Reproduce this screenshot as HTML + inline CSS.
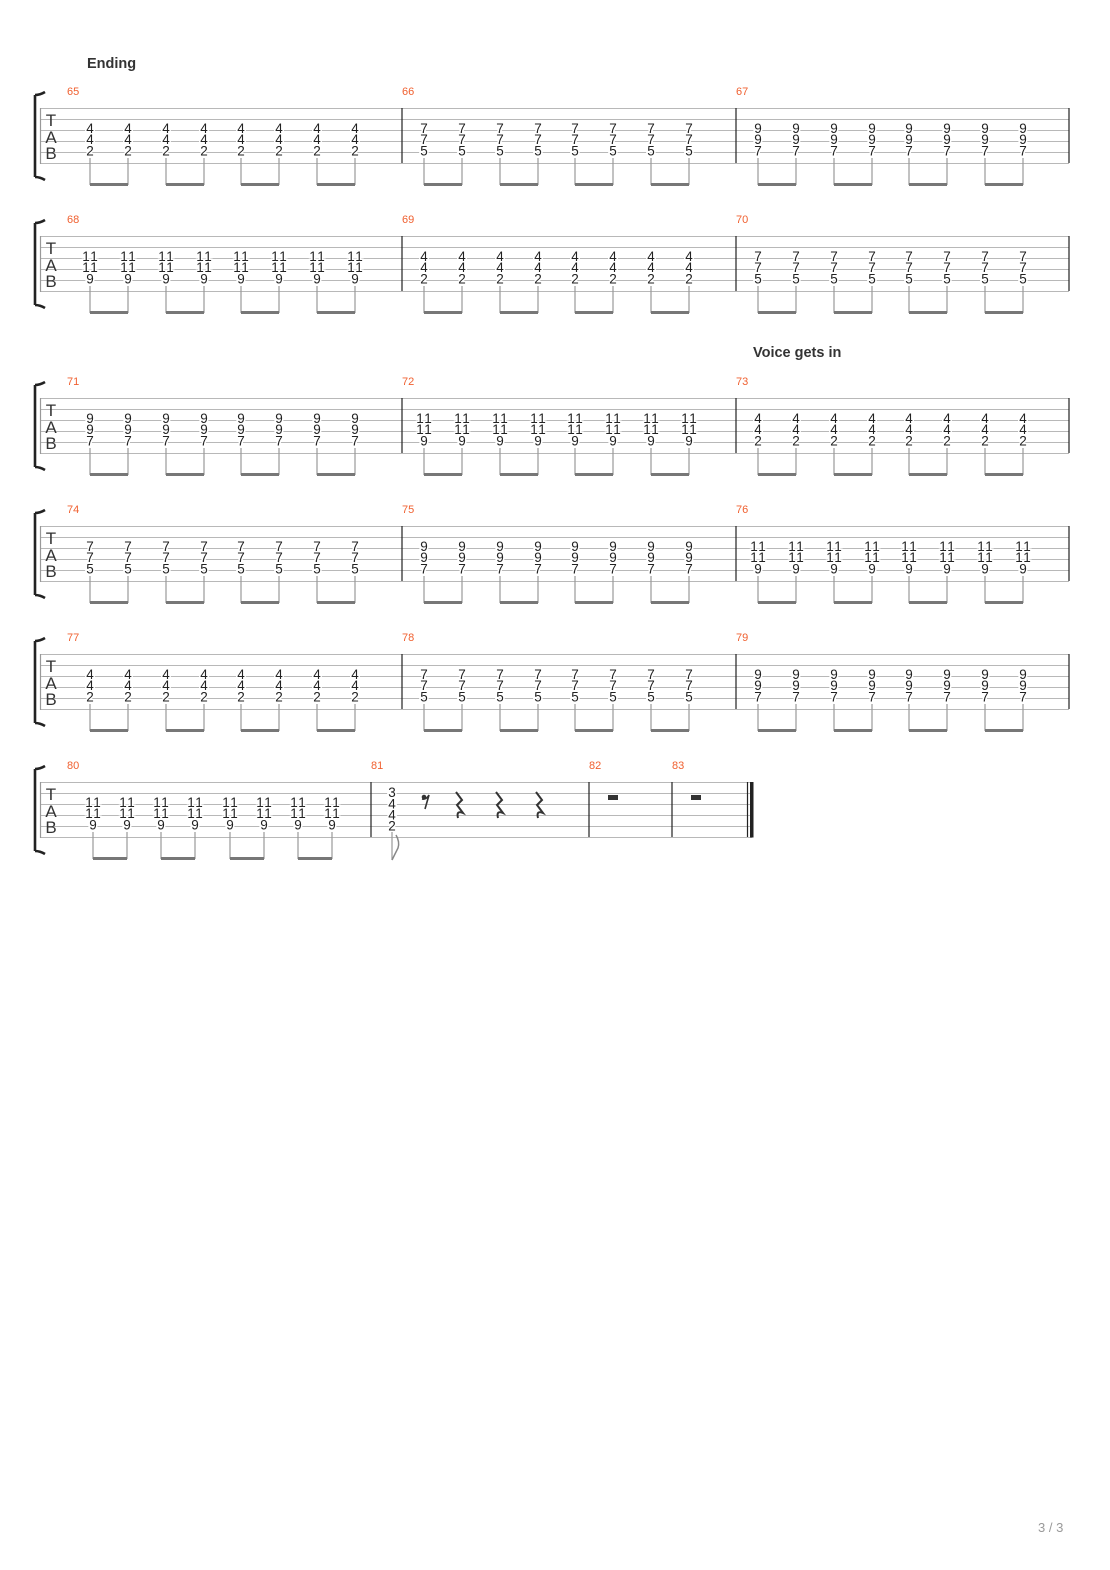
<!DOCTYPE html>
<html><head><meta charset="utf-8"><style>
body{margin:0;background:#fff;}
svg{display:block;font-family:"Liberation Sans",sans-serif;}
.n{font-size:13.5px;fill:#222;text-anchor:middle;stroke:#fff;stroke-width:3px;paint-order:stroke;}
.mn{font-size:11px;fill:#f06030;}
.sl{stroke:#b8b8b8;stroke-width:1;fill:none;}
.bl{stroke:#222;stroke-width:1.2;}
.st{stroke:#999;stroke-width:1.2;fill:none;}
.bm{stroke:#777;stroke-width:3;fill:none;}
.tab{font-size:17px;fill:#333;text-anchor:middle;}
.br{stroke:#222;stroke-width:2.6;fill:none;}
</style></head><body>
<svg width="1110" height="1570" viewBox="0 0 1110 1570" xmlns="http://www.w3.org/2000/svg">
<text x="87" y="68" font-size="14.5" font-weight="bold" fill="#333">Ending</text>
<text x="753" y="357" font-size="14.5" font-weight="bold" fill="#333">Voice gets in</text>
<text x="1038" y="1532" font-size="13" fill="#999">3 / 3</text>

<g transform="translate(0,108)">
<path class="sl" d="M40 0.5H1069M40 11.5H1069M40 22.5H1069M40 33.5H1069M40 44.5H1069M40 55.5H1069"/>
<path class="bl" d="M402 0V55M736 0V55M1069 0V55"/><path class="st" d="M40.5 0V56"/>
<path class="br" d="M35 -13V69M35 -13Q40 -13 45 -16M35 69Q40 69 45 72"/>
<text class="tab" x="51" y="18">T</text><text class="tab" x="51" y="35">A</text><text class="tab" x="51" y="51">B</text>
<text class="mn" x="67" y="-13">65</text><text class="mn" x="402" y="-13">66</text><text class="mn" x="736" y="-13">67</text>
</g>
<g transform="translate(0,236)">
<path class="sl" d="M40 0.5H1069M40 11.5H1069M40 22.5H1069M40 33.5H1069M40 44.5H1069M40 55.5H1069"/>
<path class="bl" d="M402 0V55M736 0V55M1069 0V55"/><path class="st" d="M40.5 0V56"/>
<path class="br" d="M35 -13V69M35 -13Q40 -13 45 -16M35 69Q40 69 45 72"/>
<text class="tab" x="51" y="18">T</text><text class="tab" x="51" y="35">A</text><text class="tab" x="51" y="51">B</text>
<text class="mn" x="67" y="-13">68</text><text class="mn" x="402" y="-13">69</text><text class="mn" x="736" y="-13">70</text>
</g>
<g transform="translate(0,398)">
<path class="sl" d="M40 0.5H1069M40 11.5H1069M40 22.5H1069M40 33.5H1069M40 44.5H1069M40 55.5H1069"/>
<path class="bl" d="M402 0V55M736 0V55M1069 0V55"/><path class="st" d="M40.5 0V56"/>
<path class="br" d="M35 -13V69M35 -13Q40 -13 45 -16M35 69Q40 69 45 72"/>
<text class="tab" x="51" y="18">T</text><text class="tab" x="51" y="35">A</text><text class="tab" x="51" y="51">B</text>
<text class="mn" x="67" y="-13">71</text><text class="mn" x="402" y="-13">72</text><text class="mn" x="736" y="-13">73</text>
</g>
<g transform="translate(0,526)">
<path class="sl" d="M40 0.5H1069M40 11.5H1069M40 22.5H1069M40 33.5H1069M40 44.5H1069M40 55.5H1069"/>
<path class="bl" d="M402 0V55M736 0V55M1069 0V55"/><path class="st" d="M40.5 0V56"/>
<path class="br" d="M35 -13V69M35 -13Q40 -13 45 -16M35 69Q40 69 45 72"/>
<text class="tab" x="51" y="18">T</text><text class="tab" x="51" y="35">A</text><text class="tab" x="51" y="51">B</text>
<text class="mn" x="67" y="-13">74</text><text class="mn" x="402" y="-13">75</text><text class="mn" x="736" y="-13">76</text>
</g>
<g transform="translate(0,654)">
<path class="sl" d="M40 0.5H1069M40 11.5H1069M40 22.5H1069M40 33.5H1069M40 44.5H1069M40 55.5H1069"/>
<path class="bl" d="M402 0V55M736 0V55M1069 0V55"/><path class="st" d="M40.5 0V56"/>
<path class="br" d="M35 -13V69M35 -13Q40 -13 45 -16M35 69Q40 69 45 72"/>
<text class="tab" x="51" y="18">T</text><text class="tab" x="51" y="35">A</text><text class="tab" x="51" y="51">B</text>
<text class="mn" x="67" y="-13">77</text><text class="mn" x="402" y="-13">78</text><text class="mn" x="736" y="-13">79</text>
</g>
<g transform="translate(0,782)">
<path class="sl" d="M40 0.5H752M40 11.5H752M40 22.5H752M40 33.5H752M40 44.5H752M40 55.5H752"/>
<path class="bl" d="M371 0V55M589 0V55M672 0V55M747.5 0V55"/><rect x="750" y="0" width="3.5" height="55.5" fill="#222"/><path class="st" d="M40.5 0V56"/>
<path class="br" d="M35 -13V69M35 -13Q40 -13 45 -16M35 69Q40 69 45 72"/>
<text class="tab" x="51" y="18">T</text><text class="tab" x="51" y="35">A</text><text class="tab" x="51" y="51">B</text>
<text class="mn" x="67" y="-13">80</text><text class="mn" x="371" y="-13">81</text><text class="mn" x="589" y="-13">82</text><text class="mn" x="672" y="-13">83</text>
<text class="n" x="392" y="15">3</text><text class="n" x="392" y="26.5">4</text><text class="n" x="392" y="37.5">4</text><text class="n" x="392" y="48.5">2</text>
<path class="st" d="M392 50V78"/><path d="M392 78Q396 70 398 66Q400 60 396 53" stroke="#888" stroke-width="1.5" fill="none"/>
<circle cx="424" cy="15" r="2.3" fill="#333"/><path d="M422 17Q426 18 429 13L425 27" stroke="#333" stroke-width="1.6" fill="none"/>
<path d="M456 10L462 18L457 23L463 31Q456 28 458 36" stroke="#333" stroke-width="2" fill="none"/>
<path d="M496 10L502 18L497 23L503 31Q496 28 498 36" stroke="#333" stroke-width="2" fill="none"/>
<path d="M536 10L542 18L537 23L543 31Q536 28 538 36" stroke="#333" stroke-width="2" fill="none"/>
<rect x="608" y="13" width="10" height="5" fill="#333"/><rect x="691" y="13" width="10" height="5" fill="#333"/>
</g>

<g transform="translate(90,108)">
<text class="n" x="0 38 76 114 151 189 227 265" y="25">44444444</text>
<text class="n" x="0 38 76 114 151 189 227 265" y="36">44444444</text>
<text class="n" x="0 38 76 114 151 189 227 265" y="47.5">22222222</text>
<path class="st" d="M0 50V77M38 50V77M76 50V77M114 50V77M151 50V77M189 50V77M227 50V77M265 50V77"/><path class="bm" d="M0 76.5H38M76 76.5H114M151 76.5H189M227 76.5H265"/></g>
<g transform="translate(424,108)">
<text class="n" x="0 38 76 114 151 189 227 265" y="25">77777777</text>
<text class="n" x="0 38 76 114 151 189 227 265" y="36">77777777</text>
<text class="n" x="0 38 76 114 151 189 227 265" y="47.5">55555555</text>
<path class="st" d="M0 50V77M38 50V77M76 50V77M114 50V77M151 50V77M189 50V77M227 50V77M265 50V77"/><path class="bm" d="M0 76.5H38M76 76.5H114M151 76.5H189M227 76.5H265"/></g>
<g transform="translate(758,108)">
<text class="n" x="0 38 76 114 151 189 227 265" y="25">99999999</text>
<text class="n" x="0 38 76 114 151 189 227 265" y="36">99999999</text>
<text class="n" x="0 38 76 114 151 189 227 265" y="47.5">77777777</text>
<path class="st" d="M0 50V77M38 50V77M76 50V77M114 50V77M151 50V77M189 50V77M227 50V77M265 50V77"/><path class="bm" d="M0 76.5H38M76 76.5H114M151 76.5H189M227 76.5H265"/></g>

<g transform="translate(90,236)">
<text class="n" x="-4 4 34 42 72 80 110 118 147 155 185 193 223 231 261 269" y="25">1111111111111111</text>
<text class="n" x="-4 4 34 42 72 80 110 118 147 155 185 193 223 231 261 269" y="36">1111111111111111</text>
<text class="n" x="0 38 76 114 151 189 227 265" y="47.5">99999999</text>
<path class="st" d="M0 50V77M38 50V77M76 50V77M114 50V77M151 50V77M189 50V77M227 50V77M265 50V77"/><path class="bm" d="M0 76.5H38M76 76.5H114M151 76.5H189M227 76.5H265"/></g>
<g transform="translate(424,236)">
<text class="n" x="0 38 76 114 151 189 227 265" y="25">44444444</text>
<text class="n" x="0 38 76 114 151 189 227 265" y="36">44444444</text>
<text class="n" x="0 38 76 114 151 189 227 265" y="47.5">22222222</text>
<path class="st" d="M0 50V77M38 50V77M76 50V77M114 50V77M151 50V77M189 50V77M227 50V77M265 50V77"/><path class="bm" d="M0 76.5H38M76 76.5H114M151 76.5H189M227 76.5H265"/></g>
<g transform="translate(758,236)">
<text class="n" x="0 38 76 114 151 189 227 265" y="25">77777777</text>
<text class="n" x="0 38 76 114 151 189 227 265" y="36">77777777</text>
<text class="n" x="0 38 76 114 151 189 227 265" y="47.5">55555555</text>
<path class="st" d="M0 50V77M38 50V77M76 50V77M114 50V77M151 50V77M189 50V77M227 50V77M265 50V77"/><path class="bm" d="M0 76.5H38M76 76.5H114M151 76.5H189M227 76.5H265"/></g>

<g transform="translate(90,398)">
<text class="n" x="0 38 76 114 151 189 227 265" y="25">99999999</text>
<text class="n" x="0 38 76 114 151 189 227 265" y="36">99999999</text>
<text class="n" x="0 38 76 114 151 189 227 265" y="47.5">77777777</text>
<path class="st" d="M0 50V77M38 50V77M76 50V77M114 50V77M151 50V77M189 50V77M227 50V77M265 50V77"/><path class="bm" d="M0 76.5H38M76 76.5H114M151 76.5H189M227 76.5H265"/></g>
<g transform="translate(424,398)">
<text class="n" x="-4 4 34 42 72 80 110 118 147 155 185 193 223 231 261 269" y="25">1111111111111111</text>
<text class="n" x="-4 4 34 42 72 80 110 118 147 155 185 193 223 231 261 269" y="36">1111111111111111</text>
<text class="n" x="0 38 76 114 151 189 227 265" y="47.5">99999999</text>
<path class="st" d="M0 50V77M38 50V77M76 50V77M114 50V77M151 50V77M189 50V77M227 50V77M265 50V77"/><path class="bm" d="M0 76.5H38M76 76.5H114M151 76.5H189M227 76.5H265"/></g>
<g transform="translate(758,398)">
<text class="n" x="0 38 76 114 151 189 227 265" y="25">44444444</text>
<text class="n" x="0 38 76 114 151 189 227 265" y="36">44444444</text>
<text class="n" x="0 38 76 114 151 189 227 265" y="47.5">22222222</text>
<path class="st" d="M0 50V77M38 50V77M76 50V77M114 50V77M151 50V77M189 50V77M227 50V77M265 50V77"/><path class="bm" d="M0 76.5H38M76 76.5H114M151 76.5H189M227 76.5H265"/></g>

<g transform="translate(90,526)">
<text class="n" x="0 38 76 114 151 189 227 265" y="25">77777777</text>
<text class="n" x="0 38 76 114 151 189 227 265" y="36">77777777</text>
<text class="n" x="0 38 76 114 151 189 227 265" y="47.5">55555555</text>
<path class="st" d="M0 50V77M38 50V77M76 50V77M114 50V77M151 50V77M189 50V77M227 50V77M265 50V77"/><path class="bm" d="M0 76.5H38M76 76.5H114M151 76.5H189M227 76.5H265"/></g>
<g transform="translate(424,526)">
<text class="n" x="0 38 76 114 151 189 227 265" y="25">99999999</text>
<text class="n" x="0 38 76 114 151 189 227 265" y="36">99999999</text>
<text class="n" x="0 38 76 114 151 189 227 265" y="47.5">77777777</text>
<path class="st" d="M0 50V77M38 50V77M76 50V77M114 50V77M151 50V77M189 50V77M227 50V77M265 50V77"/><path class="bm" d="M0 76.5H38M76 76.5H114M151 76.5H189M227 76.5H265"/></g>
<g transform="translate(758,526)">
<text class="n" x="-4 4 34 42 72 80 110 118 147 155 185 193 223 231 261 269" y="25">1111111111111111</text>
<text class="n" x="-4 4 34 42 72 80 110 118 147 155 185 193 223 231 261 269" y="36">1111111111111111</text>
<text class="n" x="0 38 76 114 151 189 227 265" y="47.5">99999999</text>
<path class="st" d="M0 50V77M38 50V77M76 50V77M114 50V77M151 50V77M189 50V77M227 50V77M265 50V77"/><path class="bm" d="M0 76.5H38M76 76.5H114M151 76.5H189M227 76.5H265"/></g>

<g transform="translate(90,654)">
<text class="n" x="0 38 76 114 151 189 227 265" y="25">44444444</text>
<text class="n" x="0 38 76 114 151 189 227 265" y="36">44444444</text>
<text class="n" x="0 38 76 114 151 189 227 265" y="47.5">22222222</text>
<path class="st" d="M0 50V77M38 50V77M76 50V77M114 50V77M151 50V77M189 50V77M227 50V77M265 50V77"/><path class="bm" d="M0 76.5H38M76 76.5H114M151 76.5H189M227 76.5H265"/></g>
<g transform="translate(424,654)">
<text class="n" x="0 38 76 114 151 189 227 265" y="25">77777777</text>
<text class="n" x="0 38 76 114 151 189 227 265" y="36">77777777</text>
<text class="n" x="0 38 76 114 151 189 227 265" y="47.5">55555555</text>
<path class="st" d="M0 50V77M38 50V77M76 50V77M114 50V77M151 50V77M189 50V77M227 50V77M265 50V77"/><path class="bm" d="M0 76.5H38M76 76.5H114M151 76.5H189M227 76.5H265"/></g>
<g transform="translate(758,654)">
<text class="n" x="0 38 76 114 151 189 227 265" y="25">99999999</text>
<text class="n" x="0 38 76 114 151 189 227 265" y="36">99999999</text>
<text class="n" x="0 38 76 114 151 189 227 265" y="47.5">77777777</text>
<path class="st" d="M0 50V77M38 50V77M76 50V77M114 50V77M151 50V77M189 50V77M227 50V77M265 50V77"/><path class="bm" d="M0 76.5H38M76 76.5H114M151 76.5H189M227 76.5H265"/></g>

<g transform="translate(93,782)">
<text class="n" x="-4 4 30 38 64 72 98 106 133 141 167 175 201 209 235 243" y="25">1111111111111111</text>
<text class="n" x="-4 4 30 38 64 72 98 106 133 141 167 175 201 209 235 243" y="36">1111111111111111</text>
<text class="n" x="0 34 68 102 137 171 205 239" y="47.5">99999999</text>
<path class="st" d="M0 50V77M34 50V77M68 50V77M102 50V77M137 50V77M171 50V77M205 50V77M239 50V77"/><path class="bm" d="M0 76.5H34M68 76.5H102M137 76.5H171M205 76.5H239"/></g>
</svg>
</body></html>
